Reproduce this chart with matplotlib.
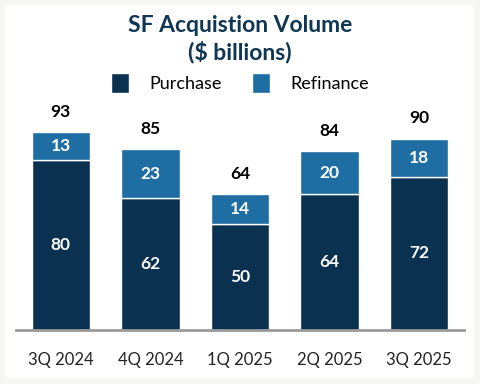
import numpy as np
import matplotlib.pyplot as plt
from matplotlib.patches import Rectangle

quarters = ['3Q 2024', '4Q 2024', '1Q 2025', '2Q 2025', '3Q 2025']
purchase = [80, 62, 50, 64, 72]
refinance = [13, 23, 14, 20, 18]
totals = [93, 85, 64, 84, 90]

navy = '#0b3150'
blue = '#1f6ea3'

plt.rcParams['font.family'] = ['Lato', 'DejaVu Sans']

fig = plt.figure(figsize=(4.8, 3.84), dpi=100, facecolor='#f6f6f4')
fig.patches.append(Rectangle((5 / 480, 6 / 384), 469 / 480, 373 / 384,
                             transform=fig.transFigure, facecolor='white',
                             edgecolor='none', zorder=-1))

ax = fig.add_axes([16 / 480, 54 / 384, 448 / 480, 212.6 / 384])
ax.set_zorder(2)
ax.set_facecolor('none')
x = np.arange(len(quarters))
w = 0.65

ax.bar(x, purchase, w, color=navy, edgecolor='white', linewidth=1, label='Purchase')
ax.bar(x, refinance, w, bottom=purchase, color=blue, edgecolor='white', linewidth=1,
       label='Refinance')

for i in range(len(quarters)):
    ax.text(x[i], purchase[i] / 2, str(purchase[i]), ha='center', va='center',
            color='white', fontsize=12.5, fontweight='bold')
    ax.text(x[i], purchase[i] + refinance[i] / 2, str(refinance[i]), ha='center',
            va='center', color='white', fontsize=12.5, fontweight='bold')
    ax.text(x[i], totals[i] + 9.5, str(totals[i]), ha='center', va='center',
            color='black', fontsize=12.5, fontweight='bold')

ax.set_xlim(-0.5, 4.5)
ax.set_ylim(0, 100)
ax.set_yticks([])
ax.set_xticks(x)
ax.set_xticklabels(quarters, fontsize=12, color='#222222')
ax.tick_params(axis='x', length=0, pad=16)
for s in ['top', 'right', 'left']:
    ax.spines[s].set_visible(False)
ax.spines['bottom'].set_color('#9a9a9a')
ax.spines['bottom'].set_linewidth(2)

fig.text(0.5, 1 - 25 / 384, 'SF Acquistion Volume', ha='center', va='center',
         fontsize=16.5, fontweight='bold', color='#0f3652')
fig.text(0.5, 1 - 52 / 384, '($ billions)', ha='center', va='center',
         fontsize=16.5, fontweight='bold', color='#0f3652')

fig.legend(loc='center', bbox_to_anchor=(0.5, 1 - 83 / 384), ncol=2, frameon=False,
           fontsize=13, handlelength=1.0, handleheight=1.3, handletextpad=1.1,
           columnspacing=1.7)

fig.savefig('out.png', dpi=100, facecolor=fig.get_facecolor())
